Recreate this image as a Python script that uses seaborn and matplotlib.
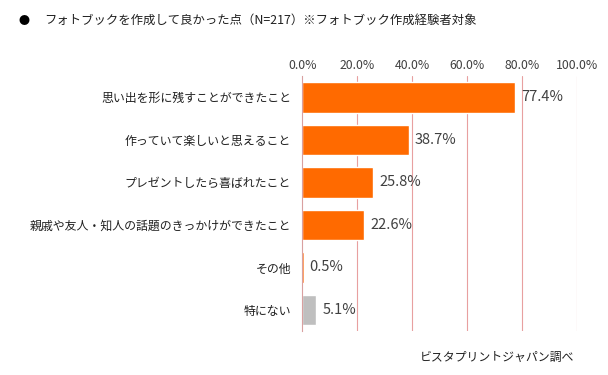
import matplotlib
matplotlib.use('Agg')
import matplotlib.pyplot as plt
import pandas as pd
import seaborn as sns

categories = [
    '思い出を形に残すことができたこと',
    '作っていて楽しいと思えること',
    'プレゼントしたら喜ばれたこと',
    '親戚や友人・知人の話題のきっかけができたこと',
    'その他',
    '特にない',
]
values = [77.4, 38.7, 25.8, 22.6, 0.5, 5.1]
xticks = [0, 20, 40, 60, 80, 100]

sns.set_style('white')
plt.rcParams['font.family'] = ['Noto Sans CJK JP', 'DejaVu Sans']

df = pd.DataFrame({'item': categories, 'pct': values})
colors = ['#FF6A00'] * 5 + ['#BFBFBF']

fig = plt.figure(figsize=(6.08, 3.75), dpi=100)
ax = fig.add_axes([0.497, 0.117, 0.452, 0.68])

sns.barplot(data=df, x='pct', y='item', hue='item', palette=colors,
            legend=False, width=0.72, ax=ax, saturation=1)

ax.set_xlim(0, 100)
ax.set_xticks(xticks)
ax.set_xticklabels([f'{t:.1f}%' for t in xticks], fontsize=8.8, color='#404040')
ax.xaxis.tick_top()
ax.tick_params(axis='x', length=0, pad=3)
ax.tick_params(axis='y', length=0, pad=8, labelsize=8.6, labelcolor='#202020')
ax.set_xlabel('')
ax.set_ylabel('')
for t in xticks[1:]:
    ax.axvline(t, color='#E8A0A0', lw=0.8, zorder=0)
for s in ['top', 'right', 'bottom']:
    ax.spines[s].set_visible(False)
ax.spines['left'].set_color('#D9A0A0')
ax.spines['left'].set_linewidth(0.8)

for i, v in enumerate(values):
    ax.text(v + 2.2, i, f'{v:.1f}%', va='center', ha='left',
            fontsize=10.5, color='#404040')

fig.text(0.03, 0.945, '●', fontsize=8, va='center', color='#000000')
fig.text(0.072, 0.945, 'フォトブックを作成して良かった点（N=217）※フォトブック作成経験者対象',
         fontsize=8.9, va='center', color='#202020')
fig.text(0.945, 0.048, 'ビスタプリントジャパン調べ', fontsize=8.6,
         ha='right', va='center', color='#202020')

fig.savefig('out.png', dpi=100)
